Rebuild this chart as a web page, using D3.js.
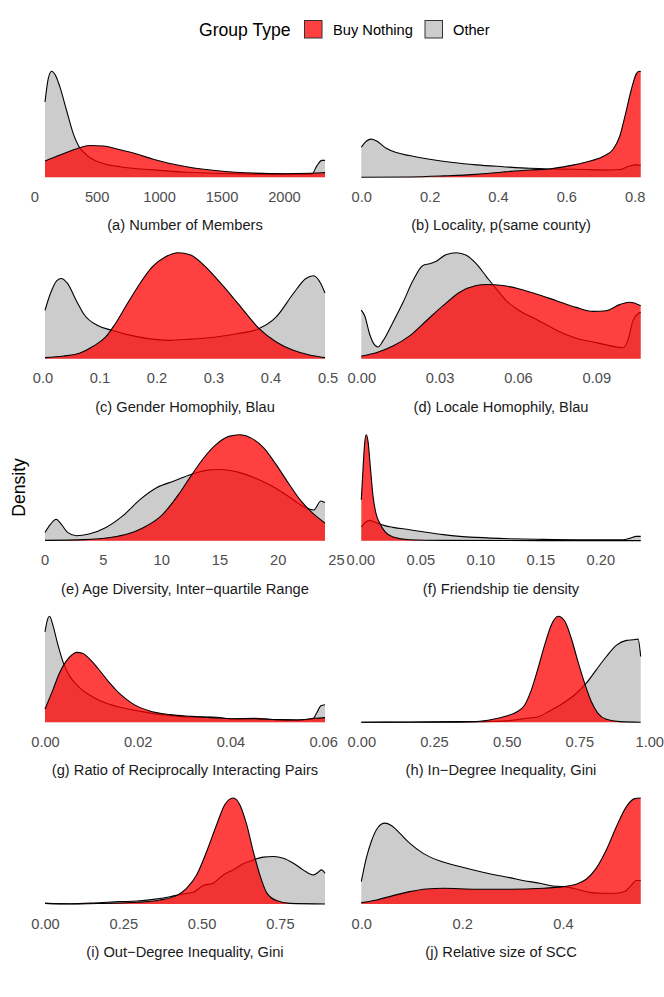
<!DOCTYPE html>
<html><head><meta charset="utf-8">
<script src="https://cdn.jsdelivr.net/npm/d3@7"></script>
<style>body{margin:0;background:#fff} svg{display:block}</style>
</head><body><svg id="chart" width="664" height="997"></svg>
<script>
// ---- Data (x value, relative density) ----
const groupTypes = ["Buy Nothing", "Other"];

const membersBN = [[86,0.153],[206,0.21],[340,0.27],[446,0.30],[553,0.295],[687,0.26],[820,0.22],[954,0.17],[1221,0.10],[1488,0.06],[1755,0.04],[2022,0.034],[2209,0.038],[2329,0.044]];
const membersOther = [[86,0.71],[112,0.93],[139,1.0],[179,0.94],[206,0.85],[259,0.63],[313,0.41],[353,0.30],[420,0.21],[553,0.13],[687,0.10],[954,0.07],[1221,0.047],[1755,0.03],[2223,0.03],[2263,0.106],[2303,0.16],[2329,0.16]];
const membersTicks = [0,500,1000,1500,2000];

const localityBN = [[0,0],[0.141,0.003],[0.239,0.013],[0.337,0.028],[0.415,0.05],[0.493,0.069],[0.551,0.079],[0.61,0.11],[0.659,0.145],[0.707,0.196],[0.737,0.265],[0.756,0.385],[0.776,0.637],[0.79,0.826],[0.805,0.978],[0.813,1.0],[0.8176,0.997]];
const localityOther = [[0,0.284],[0.0146,0.34],[0.029,0.36],[0.044,0.344],[0.073,0.274],[0.102,0.233],[0.141,0.205],[0.2,0.17],[0.268,0.139],[0.337,0.117],[0.415,0.10],[0.493,0.085],[0.551,0.079],[0.629,0.076],[0.727,0.069],[0.756,0.073],[0.785,0.107],[0.805,0.117],[0.8176,0.114]];
const localityTicks = [0,0.2,0.4,0.6,0.8];

const genderBN = [[0.0045,0.01],[0.037,0.025],[0.066,0.054],[0.089,0.117],[0.111,0.205],[0.126,0.315],[0.149,0.52],[0.171,0.71],[0.193,0.868],[0.216,0.962],[0.238,1.0],[0.26,0.978],[0.283,0.883],[0.313,0.71],[0.343,0.52],[0.38,0.284],[0.41,0.158],[0.44,0.079],[0.47,0.032],[0.4955,0.01]];
const genderOther = [[0.0045,0.457],[0.014,0.615],[0.025,0.735],[0.033,0.757],[0.044,0.71],[0.059,0.552],[0.074,0.41],[0.096,0.315],[0.122,0.268],[0.149,0.227],[0.186,0.189],[0.223,0.173],[0.26,0.185],[0.298,0.2],[0.343,0.237],[0.38,0.284],[0.41,0.394],[0.44,0.615],[0.462,0.757],[0.475,0.782],[0.488,0.71],[0.4955,0.62]];
const genderTicks = [0,0.1,0.2,0.3,0.4,0.5];

const localeBN = [[0,0.025],[0.0057,0.057],[0.0121,0.12],[0.0185,0.215],[0.0249,0.358],[0.0313,0.5],[0.0377,0.627],[0.044,0.69],[0.0479,0.7],[0.0543,0.69],[0.0606,0.658],[0.067,0.611],[0.0747,0.547],[0.0823,0.484],[0.0887,0.446],[0.0938,0.453],[0.0989,0.51],[0.1028,0.532],[0.107,0.5]];
const localeOther = [[0,0.459],[0.0013,0.405],[0.0032,0.231],[0.0051,0.13],[0.0064,0.111],[0.0083,0.168],[0.0121,0.342],[0.016,0.532],[0.0198,0.737],[0.0236,0.88],[0.0262,0.896],[0.0287,0.92],[0.0326,0.984],[0.0364,1.0],[0.0402,0.975],[0.044,0.896],[0.0479,0.775],[0.0517,0.658],[0.0555,0.547],[0.0606,0.453],[0.067,0.373],[0.0747,0.269],[0.0823,0.193],[0.09,0.152],[0.0977,0.111],[0.1002,0.104],[0.102,0.168],[0.104,0.357],[0.106,0.427],[0.107,0.437]];
const localeTicks = [0,0.03,0.06,0.09];

const ageBN = [[0.03,0.003],[3.4,0.01],[5.6,0.03],[7.1,0.0625],[8.5,0.125],[10.0,0.234],[11.5,0.4375],[12.55,0.61],[13.65,0.78],[14.7,0.906],[15.8,0.984],[16.75,1.0],[17.7,0.97],[18.8,0.875],[19.85,0.72],[20.9,0.547],[22.0,0.375],[23.1,0.25],[24.06,0.166]];
const ageOther = [[0.03,0.078],[0.51,0.156],[0.99,0.203],[1.42,0.156],[1.97,0.078],[2.7,0.047],[3.8,0.0625],[5.26,0.125],[6.7,0.234],[8.2,0.39],[9.6,0.5],[11.1,0.5625],[12.55,0.625],[14.0,0.666],[15.1,0.672],[16.6,0.647],[18.0,0.594],[19.5,0.516],[20.9,0.42],[22.4,0.3125],[23.1,0.29],[23.7,0.375],[24.06,0.36]];
const ageTicks = [0,5,10,15,20,25];

const friendBN = [[0.0008,0.387],[0.0022,0.67],[0.0036,0.92],[0.005,1.0],[0.0064,0.937],[0.0083,0.70],[0.0106,0.418],[0.0133,0.245],[0.0161,0.167],[0.0203,0.088],[0.0272,0.035],[0.041,0.009],[0.069,0.003],[0.15,0.001],[0.2336,0.001]];
const friendOther = [[0.0008,0.129],[0.0036,0.167],[0.0078,0.192],[0.012,0.176],[0.0161,0.157],[0.0203,0.142],[0.0272,0.126],[0.041,0.104],[0.055,0.079],[0.069,0.057],[0.0828,0.041],[0.0967,0.031],[0.124,0.019],[0.152,0.0126],[0.18,0.0094],[0.219,0.0094],[0.2244,0.022],[0.23,0.041],[0.2336,0.041]];
const friendTicks = [0,0.05,0.10,0.15,0.20];

const reciprocBN = [[0,0.125],[0.0017,0.306],[0.0031,0.4625],[0.0045,0.572],[0.0059,0.64],[0.0068,0.66],[0.0082,0.65],[0.0095,0.603],[0.0114,0.51],[0.0137,0.384],[0.016,0.275],[0.0187,0.181],[0.0224,0.109],[0.027,0.072],[0.0316,0.056],[0.036,0.044],[0.0407,0.034],[0.0453,0.034],[0.0499,0.025],[0.0545,0.022],[0.0582,0.0375],[0.0604,0.044]];
const reciprocOther = [[0,0.853],[0.0006,0.978],[0.001,1.0],[0.0017,0.916],[0.0027,0.744],[0.004,0.556],[0.0054,0.431],[0.0072,0.3375],[0.0095,0.26],[0.0123,0.197],[0.016,0.144],[0.0206,0.103],[0.0251,0.072],[0.0316,0.05],[0.036,0.05],[0.0407,0.031],[0.0453,0.0375],[0.0499,0.025],[0.0545,0.022],[0.0577,0.031],[0.0586,0.0875],[0.0595,0.156],[0.0604,0.166]];
const reciprocTicks = [0,0.02,0.04,0.06];

const inDegBN = [[0,0],[0.281,0],[0.396,0.006],[0.453,0.028],[0.499,0.06],[0.533,0.095],[0.562,0.164],[0.585,0.306],[0.608,0.511],[0.631,0.732],[0.654,0.921],[0.677,1.0],[0.7,0.953],[0.722,0.795],[0.745,0.574],[0.768,0.369],[0.791,0.196],[0.814,0.085],[0.843,0.028],[0.889,0.006],[0.961,0]];
const inDegOther = [[0,0],[0.166,0.003],[0.338,0.006],[0.453,0.009],[0.51,0.016],[0.568,0.038],[0.602,0.047],[0.648,0.107],[0.694,0.18],[0.74,0.274],[0.774,0.369],[0.808,0.495],[0.843,0.621],[0.877,0.726],[0.912,0.773],[0.935,0.779],[0.952,0.785],[0.961,0.621]];
const inDegTicks = [0,0.25,0.5,0.75,1.0];

const outDegBN = [[0,0.006],[0.08,0],[0.186,0.006],[0.293,0.016],[0.367,0.038],[0.42,0.079],[0.452,0.148],[0.484,0.274],[0.516,0.495],[0.548,0.748],[0.574,0.937],[0.601,1.0],[0.622,0.937],[0.644,0.748],[0.665,0.495],[0.686,0.274],[0.707,0.11],[0.739,0.032],[0.782,0.006],[0.894,0]];
const outDegOther = [[0,0.006],[0.08,0.003],[0.154,0.009],[0.239,0.022],[0.293,0.028],[0.346,0.044],[0.399,0.069],[0.441,0.095],[0.473,0.11],[0.505,0.174],[0.537,0.196],[0.569,0.274],[0.601,0.322],[0.633,0.379],[0.665,0.416],[0.697,0.442],[0.729,0.448],[0.761,0.432],[0.793,0.385],[0.824,0.322],[0.856,0.274],[0.872,0.3],[0.883,0.322],[0.894,0.29]];
const outDegTicks = [0,0.25,0.5,0.75];

const sccBN = [[0,0.013],[0.03,0.038],[0.063,0.079],[0.0959,0.117],[0.129,0.142],[0.162,0.148],[0.228,0.139],[0.294,0.139],[0.36,0.148],[0.4,0.164],[0.426,0.186],[0.446,0.233],[0.466,0.338],[0.486,0.511],[0.506,0.732],[0.526,0.921],[0.542,0.994],[0.554,1.0]];
const sccOther = [[0,0.211],[0.0099,0.432],[0.0198,0.59],[0.033,0.722],[0.0463,0.763],[0.0595,0.741],[0.076,0.669],[0.0959,0.574],[0.122,0.48],[0.155,0.407],[0.195,0.353],[0.241,0.3],[0.294,0.249],[0.334,0.211],[0.354,0.196],[0.38,0.17],[0.4,0.164],[0.426,0.142],[0.453,0.11],[0.479,0.101],[0.506,0.101],[0.522,0.117],[0.536,0.18],[0.545,0.221],[0.554,0.221]];
const sccTicks = [0,0.2,0.4];

const panelTitles = ["(a) Number of Members","(b) Locality, p(same county)","(c) Gender Homophily, Blau","(d) Locale Homophily, Blau","(e) Age Diversity, Inter\u2212quartile Range","(f) Friendship tie density","(g) Ratio of Reciprocally Interacting Pairs","(h) In\u2212Degree Inequality, Gini","(i) Out\u2212Degree Inequality, Gini","(j) Relative size of SCC"];

// ---- Panel setup ----
const panels = [
  {bn: membersBN, other: membersOther, ticks: membersTicks, domain:[86,2329], fmt:"d"},
  {bn: localityBN, other: localityOther, ticks: localityTicks, domain:[0,0.8176], fmt:".1f"},
  {bn: genderBN, other: genderOther, ticks: genderTicks, domain:[0.0045,0.4955], fmt:".1f"},
  {bn: localeBN, other: localeOther, ticks: localeTicks, domain:[0,0.107], fmt:".2f"},
  {bn: ageBN, other: ageOther, ticks: ageTicks, domain:[0.03,24.06], fmt:"d"},
  {bn: friendBN, other: friendOther, ticks: friendTicks, domain:[0.0008,0.2336], fmt:".2f"},
  {bn: reciprocBN, other: reciprocOther, ticks: reciprocTicks, domain:[0,0.0604], fmt:".2f"},
  {bn: inDegBN, other: inDegOther, ticks: inDegTicks, domain:[0,0.961], fmt:".2f"},
  {bn: outDegBN, other: outDegOther, ticks: outDegTicks, domain:[0,0.894], fmt:".2f"},
  {bn: sccBN, other: sccOther, ticks: sccTicks, domain:[0,0.554], fmt:".1f"}
];

const FONT = '"Liberation Sans", Arial, Helvetica, sans-serif';
const RED = "#ff0000", RED_OP = 0.75, GRAY = "#cccccc";
const W = 664;
const cols = [[45,325],[361.3,640.7]];
const baselines = [177.3,358.7,540.7,722.3,904];
const peakH = 106;

const svg = d3.select("#chart");
svg.append("rect").attr("width",664).attr("height",997).attr("fill","#fff");

panels.forEach((p,i) => {
  const col = i % 2, row = Math.floor(i/2);
  const base = baselines[row];
  const x = d3.scaleLinear().domain(p.domain).range(cols[col]);
  const y = d3.scaleLinear().domain([0,1]).range([base, base - peakH]);
  const area = d3.area().x(d => x(d[0])).y0(y(0)).y1(d => y(d[1])).curve(d3.curveMonotoneX);
  const line = d3.line().x(d => x(d[0])).y(d => y(d[1])).curve(d3.curveMonotoneX);
  const g = svg.append("g");
  [[p.other, GRAY, 1],[p.bn, RED, RED_OP]].forEach(([data, fill, op]) => {
    g.append("path").attr("d", area(data)).attr("fill", fill).attr("fill-opacity", op);
    g.append("path").attr("d", line(data)).attr("fill","none").attr("stroke","#000").attr("stroke-width",1.1);
  });
  const axis = d3.axisBottom(x).tickValues(p.ticks).tickFormat(d3.format(p.fmt)).tickSize(0).tickPadding(14.2);
  const ag = g.append("g").attr("transform", `translate(0,${base})`).call(axis);
  ag.select(".domain").remove();
  ag.attr("font-family", FONT).attr("font-size", 14.67);
  ag.selectAll("text").attr("fill", "#4d4d4d");
  // keep labels inside the page
  ag.selectAll(".tick").each(function(d) {
    const t = d3.select(this).select("text");
    const bb = this.getBBox();
    const right = x(d) + bb.x + bb.width;
    if (right > W - 0.5) t.attr("dx", (W - 0.5 - right) + "px");
  });
  g.append("text")
    .attr("x", (cols[col][0] + cols[col][1]) / 2)
    .attr("y", base + 53)
    .attr("text-anchor","middle")
    .attr("font-family", FONT).attr("font-size", 14.67).attr("fill","#1a1a1a")
    .text(panelTitles[i]);
});

// y label
svg.append("text")
  .attr("transform","translate(24.5,487.5) rotate(-90)")
  .attr("text-anchor","middle")
  .attr("font-family", FONT).attr("font-size", 17.6).attr("fill","#000")
  .text("Density");

// legend
const lg = svg.append("g");
lg.append("text").attr("x",199).attr("y",35.6).attr("font-family",FONT).attr("font-size",17.6).attr("fill","#000").text("Group Type");
const legendItems = [
  {label: groupTypes[0], fill: RED, op: RED_OP, x: 304.5, tx: 333},
  {label: groupTypes[1], fill: GRAY, op: 1, x: 425, tx: 453}
];
legendItems.forEach(it => {
  lg.append("rect").attr("x", it.x).attr("y", 20.5).attr("width", 17.5).attr("height", 17.5)
    .attr("fill", it.fill).attr("fill-opacity", it.op).attr("stroke","#333").attr("stroke-width",1);
  lg.append("text").attr("x", it.tx).attr("y", 34.6).attr("font-family",FONT).attr("font-size",14.67).attr("fill","#000").text(it.label);
});
</script></body></html>
